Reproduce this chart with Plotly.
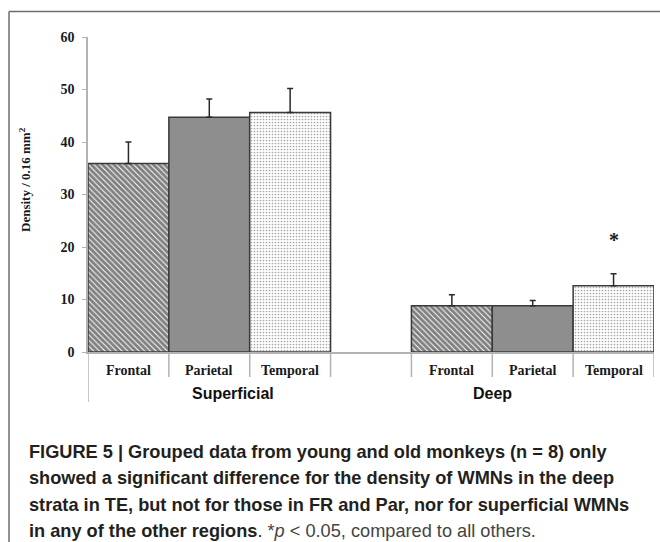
import plotly.graph_objects as go

# Density of white-matter neurons (mean + SEM) by stratum and cortical region
strata = ["Superficial", "Deep"]
regions = ["Frontal", "Parietal", "Temporal"]
frontal_mean = [35.9, 8.8]
parietal_mean = [44.7, 8.8]
temporal_mean = [45.6, 12.6]
frontal_sem = [4.1, 2.1]
parietal_sem = [3.5, 1.0]
temporal_sem = [4.6, 2.3]
y_ticks = [0, 10, 20, 30, 40, 50, 60]
significant = [("Deep", "Temporal")]

means = {"Frontal": frontal_mean, "Parietal": parietal_mean, "Temporal": temporal_mean}
sems = {"Frontal": frontal_sem, "Parietal": parietal_sem, "Temporal": temporal_sem}

# one empty slot separates the two strata
slots_per_group = len(regions) + 1


def slot(stratum, region):
    return strata.index(stratum) * slots_per_group + regions.index(region)


W, H = 660, 542
L, R, T, B = 88, 6, 37, 190
PW, PH = W - L - R, H - T - B


def px_x(px):
    return (px - L) / PW


def px_y(py):
    return (H - B - py) / PH


styles = {
    "Frontal": dict(color="white", pattern=dict(shape="\\", fgcolor="#000000", bgcolor="white",
                                                 size=4, solidity=0.75)),
    "Parietal": dict(color="#8e8e8e"),
    "Temporal": dict(color="white", pattern=dict(shape=".", fgcolor="#4a4a4a", bgcolor="white",
                                                  size=3, solidity=0.25)),
}

fig = go.Figure()
for reg in regions:
    fig.add_trace(go.Bar(
        x=[slot(s, reg) for s in strata],
        y=means[reg],
        width=1,
        name=reg,
        marker=dict(line=dict(color="#3a3a3a", width=1.5), **styles[reg]),
        error_y=dict(type="data", array=sems[reg], arrayminus=[0] * len(strata),
                     symmetric=False, color="#2a2a2a", thickness=1.5, width=3),
        showlegend=False,
    ))

serif = dict(family="Liberation Serif", color="#1a1a1a")
n_slots = len(strata) * slots_per_group - 1
fig.update_layout(
    width=W, height=H,
    margin=dict(l=L, r=R, t=T, b=B),
    paper_bgcolor="white", plot_bgcolor="white",
    barmode="overlay",
    xaxis=dict(range=[-0.5, n_slots - 0.5], showticklabels=False, ticks="",
               showgrid=False, zeroline=False, showline=True,
               linecolor="#b3b3b3", linewidth=1.5),
    yaxis=dict(range=[0, 60], tickvals=y_ticks, ticktext=[f"<b>{v}</b>" for v in y_ticks],
               ticks="outside", ticklen=4,
               tickcolor="#b3b3b3", tickwidth=1.2, showgrid=False, zeroline=False,
               showline=True, linecolor="#b3b3b3", linewidth=1.5,
               ticklabelstandoff=5, tickfont=dict(size=14, **serif)),
)

shapes = []
annotations = []

# category dividers below the baseline
grey = "#b3b3b3"
for g, stratum in enumerate(strata):
    for i in range(len(regions) + 1):
        xb = g * slots_per_group + i - 0.5
        bottom = px_y(402) if xb == -0.5 else px_y(377)
        shapes.append(dict(type="line", xref="x", yref="paper", x0=xb, x1=xb,
                           y0=0, y1=bottom, line=dict(color=grey, width=1.5)))
    for reg in regions:
        annotations.append(dict(x=slot(stratum, reg), y=px_y(370), xref="x", yref="paper",
                                text=f"<b>{reg}</b>", showarrow=False, yanchor="middle",
                                font=dict(size=14, **serif)))

# stratum labels
group_centers = {"Superficial": 190, "Deep": 513.5}
for stratum in strata:
    annotations.append(dict(x=px_x(group_centers[stratum]), y=px_y(393), xref="paper",
                            yref="paper", text=f"<b>{stratum}</b>", showarrow=False,
                            yanchor="middle",
                            font=dict(family="Liberation Sans", size=16, color="#111111")))

# significance markers
for stratum, reg in significant:
    k = strata.index(stratum)
    annotations.append(dict(x=slot(stratum, reg), y=means[reg][k] + sems[reg][k],
                            xref="x", yref="y", text="<b>*</b>", showarrow=False,
                            yshift=34, yanchor="middle",
                            font=dict(size=20, **serif)))

# y-axis title
annotations.append(dict(x=px_x(25), y=px_y(180), xref="paper", yref="paper",
                        text="<b>Density / 0.16 mm<sup>2</sup></b>", textangle=-90,
                        showarrow=False, xanchor="center", yanchor="middle",
                        font=dict(size=13, **serif)))

# frame around the figure
frame = dict(color="#6e6e6e", width=1.5)
shapes.append(dict(type="line", xref="paper", yref="paper", x0=px_x(9), x1=px_x(660),
                   y0=px_y(11.5), y1=px_y(11.5), line=frame))
shapes.append(dict(type="line", xref="paper", yref="paper", x0=px_x(9), x1=px_x(9),
                   y0=px_y(11.5), y1=px_y(542), line=frame))

# caption
caption = [
    "<b>FIGURE 5 | Grouped data from young and old monkeys (n = 8) only</b>",
    "<b>showed a significant difference for the density of WMNs in the deep</b>",
    "<b>strata in TE, but not for those in FR and Par, nor for superficial WMNs</b>",
    "<b>in any of the other regions</b>. <span style='color:#444444'>*<i>p</i> &lt; 0.05, "
    "compared to all others.</span>",
]
caption_rows = [451.7, 478.3, 504.5, 530.5]
for line, row in zip(caption, caption_rows):
    annotations.append(dict(x=px_x(27), y=px_y(row), xref="paper", yref="paper",
                            text=line, showarrow=False, xanchor="left", yanchor="middle",
                            align="left",
                            font=dict(family="Liberation Sans", size=18.2, color="#231f20")))

fig.update_layout(shapes=shapes, annotations=annotations)
fig.write_html("out.html")
